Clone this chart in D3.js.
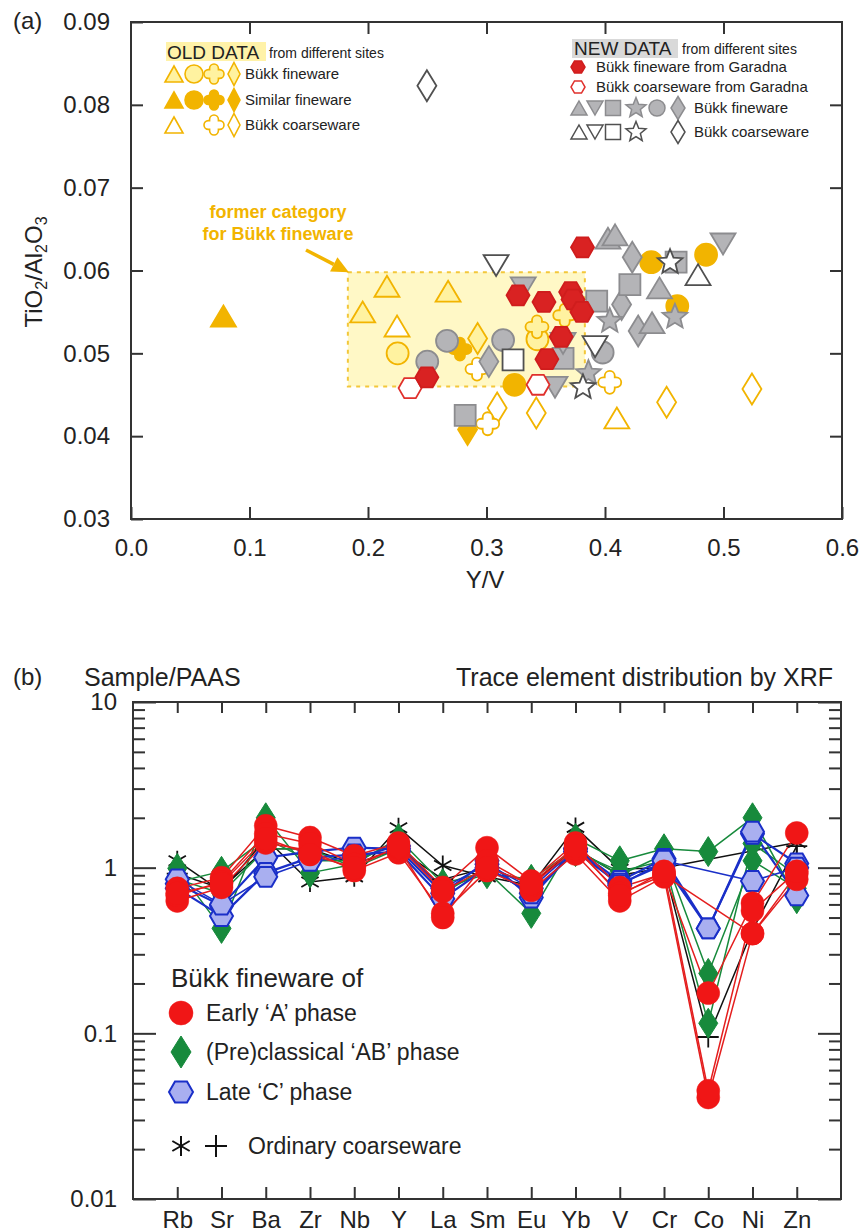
<!DOCTYPE html>
<html><head><meta charset="utf-8">
<script src="https://cdn.jsdelivr.net/npm/d3@7"></script>
<style>
body{margin:0;background:#fff}
svg text{font-family:"Liberation Sans",Arial,Helvetica,sans-serif;fill:#222}
</style>
</head><body>
<svg id="chart" width="861" height="1232"></svg>
<script>
// ================= Panel (a) data : [Y/V, TiO2/Al2O3] =================
const xTicksA = [0, 0.1, 0.2, 0.3, 0.4, 0.5, 0.6];
const yTicksA = [0.03, 0.04, 0.05, 0.06, 0.07, 0.08, 0.09];
const formerCategory = [[0.183, 0.046], [0.383, 0.0598]];

// OLD DATA
const oldFineTri = [[0.1955,0.0550],[0.2160,0.0581],[0.2676,0.0575]];
const oldFineCircle = [[0.2250,0.0500],[0.3430,0.0517]];
const oldFineCross = [[0.3426,0.0532],[0.3660,0.0546]];
const oldFineDiamond = [[0.2925,0.0518]];
const simTri = [[0.078,0.0545]];
const simCircle = [[0.3236,0.0462],[0.4390,0.0610],[0.4853,0.0619],[0.4610,0.0557]];
const simCross = [[0.2776,0.0505]];
const simDiamond = [[0.2840,0.0408]];
const oldCoarseTri = [[0.2245,0.0533],[0.4100,0.0422]];
const oldCoarseCross = [[0.2920,0.0481],[0.3010,0.0415],[0.4040,0.0465]];
const oldCoarseDiamond = [[0.3090,0.0434],[0.3420,0.0428],[0.4520,0.0441],[0.5240,0.0457]];
// NEW DATA
const garadnaFine = [[0.3266,0.0570],[0.3485,0.0562],[0.3710,0.0574],[0.3730,0.0565],[0.3805,0.0550],[0.3630,0.0520],[0.3510,0.0493],[0.2497,0.0471],[0.3810,0.0628]];
const garadnaCoarse = [[0.2355,0.0458],[0.3435,0.0462]];
const newFineTriUp = [[0.4025,0.0639],[0.4085,0.0643],[0.4460,0.0579],[0.4397,0.0537]];
const newFineTriDown = [[0.4996,0.0632],[0.3578,0.0459],[0.3310,0.0579],[0.3646,0.0512]];
const newFineSquare = [[0.2820,0.0425],[0.4210,0.0583],[0.3930,0.0563],[0.4600,0.0610],[0.3646,0.0494]];
const newFineStar = [[0.4040,0.0539],[0.4590,0.0544],[0.3860,0.0476]];
const newFineCircle = [[0.2667,0.0515],[0.2500,0.0490],[0.3140,0.0516],[0.3980,0.0501]];
const newFineDiamond = [[0.3020,0.0490],[0.4230,0.0616],[0.4140,0.0559],[0.4280,0.0527]];
const newCoarseTriUp = [[0.4785,0.0595]];
const newCoarseTriDown = [[0.3081,0.0606],[0.3916,0.0508]];
const newCoarseSquare = [[0.3224,0.0492]];
const newCoarseStar = [[0.4549,0.0610],[0.3814,0.0459]];
const newCoarseDiamond = [[0.2497,0.0823]];

// ================= Panel (b) data : Sample/PAAS =================
const elements = ["Rb","Sr","Ba","Zr","Nb","Y","La","Sm","Eu","Yb","V","Cr","Co","Ni","Zn"];
const yMajorB = [0.01, 0.1, 1, 10];
const earlyA1 = [0.75,0.87,1.79,1.52,1.18,1.41,0.76,1.32,0.83,1.41,0.76,0.92,0.175,0.61,1.62];
const earlyA2 = [0.63,0.76,1.41,1.27,0.96,1.23,0.53,0.96,0.73,1.21,0.63,0.88,0.041,0.40,0.92];
const earlyA3 = [0.68,0.82,1.60,1.40,1.05,1.32,0.50,1.10,0.78,1.30,0.70,0.90,null,0.40,0.85];
const earlyA4 = [0.70,0.80,1.50,1.20,1.00,1.35,0.72,1.00,0.80,1.35,0.68,0.95,0.045,0.55,0.95];
const abPhase1 = [0.99,0.43,2.00,0.93,1.05,1.50,0.80,0.95,0.53,1.50,1.10,1.30,1.25,2.00,0.65];
const abPhase2 = [0.82,0.95,1.50,1.10,1.10,1.40,0.75,0.92,0.85,1.30,0.90,1.20,0.23,1.10,0.75];
const abPhase3 = [0.85,0.70,1.30,1.30,1.00,1.30,0.70,1.00,0.70,1.25,0.95,1.10,0.115,1.40,0.90];
const lateC1 = [0.80,0.59,1.15,1.25,1.32,1.30,0.70,1.10,0.66,1.30,0.83,1.13,0.43,1.60,1.06];
const lateC2 = [0.75,0.51,0.93,1.15,1.20,1.25,0.65,1.00,0.70,1.25,0.80,1.05,0.43,1.65,0.68];
const lateC3 = [0.85,0.60,0.88,1.10,1.15,1.35,0.75,1.05,0.75,1.30,0.78,1.10,null,0.83,1.00];
const coarseStar = [1.10,0.72,1.50,0.82,0.88,1.74,1.03,0.88,0.78,1.75,0.98,1.00,null,null,1.42];
const coarsePlus = [0.92,0.75,1.30,1.30,1.05,1.30,0.85,1.00,0.80,1.30,0.90,1.00,0.095,0.42,1.35];

// ================= styles =================
const GOLD="#f2b400", LIGHTY="#fff2a0", GRAYF="#b4b4b7", GRAYS="#8c8c8f", DARKS="#505050",
      REDF="#d92222", REDS="#cf1d1d";
const BRED="#f01616", BGREEN="#178a3c", BBLUE="#1a2fc8", BHEXF="#a9aff0";

// ================= shape paths =================
const f = v => (+v).toFixed(2);
const shapes = {
  triUp:(w,h)=>`M0,${f(-h/2)}L${f(w/2)},${f(h/2)}L${f(-w/2)},${f(h/2)}Z`,
  triDown:(w,h)=>`M0,${f(h/2)}L${f(w/2)},${f(-h/2)}L${f(-w/2)},${f(-h/2)}Z`,
  square:(s)=>`M${f(-s/2)},${f(-s/2)}h${f(s)}v${f(s)}h${f(-s)}Z`,
  circle:(r)=>`M${f(r)},0A${f(r)},${f(r)} 0 1 1 ${f(-r)},0A${f(r)},${f(r)} 0 1 1 ${f(r)},0Z`,
  diamond:(w,h)=>`M0,${f(-h/2)}L${f(w/2)},0L0,${f(h/2)}L${f(-w/2)},0Z`,
  hex:(r)=>{const p=[];for(let i=0;i<6;i++){const a=Math.PI/3*i;p.push(f(r*Math.cos(a))+","+f(r*Math.sin(a)));}return "M"+p.join("L")+"Z";},
  star:(ro,ri)=>{const p=[];for(let i=0;i<10;i++){const r=i%2?ri:ro;const a=-Math.PI/2+i*Math.PI/5;p.push(f(r*Math.cos(a))+","+f(r*Math.sin(a)));}return "M"+p.join("L")+"Z";},
  cross:(R,a)=>{const b=R-a;return `M${f(-a)},${f(-a)}L${f(-a)},${f(-b)}A${f(a)},${f(a)} 0 0 1 ${f(a)},${f(-b)}L${f(a)},${f(-a)}L${f(b)},${f(-a)}A${f(a)},${f(a)} 0 0 1 ${f(b)},${f(a)}L${f(a)},${f(a)}L${f(a)},${f(b)}A${f(a)},${f(a)} 0 0 1 ${f(-a)},${f(b)}L${f(-a)},${f(a)}L${f(-b)},${f(a)}A${f(a)},${f(a)} 0 0 1 ${f(-b)},${f(-a)}Z`;},
  asterisk:(r)=>{let s="";for(let i=0;i<3;i++){const a=Math.PI/2+i*Math.PI/3;s+=`M${f(r*Math.cos(a))},${f(r*Math.sin(a))}L${f(-r*Math.cos(a))},${f(-r*Math.sin(a))}`;}return s;},
  plus:(r)=>`M${f(-r)},0L${f(r)},0M0,${f(-r)}L0,${f(r)}`
};
// plot-size shape makers (panel a)
const A = {
  triUp:()=>shapes.triUp(25,21), triDown:()=>shapes.triDown(25,21), square:()=>shapes.square(21),
  circle:()=>shapes.circle(11), diamond:()=>shapes.diamond(19,31), cross:()=>shapes.cross(11.5,5),
  star:()=>shapes.star(13,5.8), hex:()=>shapes.hex(11.5)
};

const svg = d3.select("#chart");

// ================= PANEL (a) =================
const xA = d3.scaleLinear().domain([0,0.6]).range([131,842]);
const yA = d3.scaleLinear().domain([0.03,0.09]).range([519,22]);
const gA = svg.append("g");

// former category box
gA.append("rect")
  .attr("x", xA(formerCategory[0][0])).attr("y", yA(formerCategory[1][1]))
  .attr("width", xA(formerCategory[1][0]) - xA(formerCategory[0][0]))
  .attr("height", yA(formerCategory[0][1]) - yA(formerCategory[1][1]))
  .attr("fill", "#fff8c6").attr("stroke", "#f3c73a").attr("stroke-width", 2)
  .attr("stroke-dasharray", "4,5");

const groupsA = [
  {data:oldCoarseDiamond, shape:"diamond", fill:"#fff", stroke:GOLD},
  {data:oldCoarseCross, shape:"cross", fill:"#fff", stroke:GOLD},
  {data:oldCoarseTri, shape:"triUp", fill:"#fff", stroke:GOLD},
  {data:simDiamond, shape:"diamond", fill:GOLD, stroke:GOLD},
  {data:simCross, shape:"cross", fill:GOLD, stroke:GOLD},
  {data:simTri, shape:"triUp", fill:GOLD, stroke:GOLD},
  {data:simCircle, shape:"circle", fill:GOLD, stroke:GOLD},
  {data:oldFineTri, shape:"triUp", fill:LIGHTY, stroke:GOLD},
  {data:oldFineCircle, shape:"circle", fill:LIGHTY, stroke:GOLD},
  {data:oldFineCross, shape:"cross", fill:LIGHTY, stroke:GOLD},
  {data:oldFineDiamond, shape:"diamond", fill:LIGHTY, stroke:GOLD},
  {data:newFineCircle, shape:"circle", fill:GRAYF, stroke:GRAYS},
  {data:newFineDiamond, shape:"diamond", fill:GRAYF, stroke:GRAYS},
  {data:newFineSquare, shape:"square", fill:GRAYF, stroke:GRAYS},
  {data:newFineTriUp, shape:"triUp", fill:GRAYF, stroke:GRAYS},
  {data:newFineTriDown, shape:"triDown", fill:GRAYF, stroke:GRAYS},
  {data:newFineStar, shape:"star", fill:GRAYF, stroke:GRAYS},
  {data:newCoarseSquare, shape:"square", fill:"#fff", stroke:DARKS},
  {data:newCoarseTriUp, shape:"triUp", fill:"#fff", stroke:DARKS},
  {data:newCoarseTriDown, shape:"triDown", fill:"#fff", stroke:DARKS},
  {data:newCoarseStar, shape:"star", fill:"#fff", stroke:DARKS},
  {data:newCoarseDiamond, shape:"diamond", fill:"#fff", stroke:DARKS},
  {data:garadnaCoarse, shape:"hex", fill:"#fff", stroke:"#e0302c"},
  {data:garadnaFine, shape:"hex", fill:REDF, stroke:REDS}
];
groupsA.forEach(g => {
  gA.append("g").selectAll("path").data(g.data).join("path")
    .attr("d", A[g.shape]())
    .attr("transform", d => `translate(${xA(d[0])},${yA(d[1])})`)
    .attr("fill", g.fill).attr("stroke", g.stroke).attr("stroke-width", 1.8)
    .attr("stroke-linejoin", "miter");
});

// annotation
const ann = gA.append("g");
ann.append("text").attr("x", 278).attr("y", 212).attr("dy","0.35em").attr("text-anchor","middle")
  .style("fill", GOLD).style("font-weight","bold").style("font-size","18px").text("former category");
ann.append("text").attr("x", 278).attr("y", 234).attr("dy","0.35em").attr("text-anchor","middle")
  .style("fill", GOLD).style("font-weight","bold").style("font-size","18px").text("for Bükk fineware");
{
  const tx = xA(formerCategory[0][0]) + 1, ty = yA(formerCategory[1][1]);
  const sx = 306, sy = 250;
  const ang = Math.atan2(ty - sy, tx - sx);
  const L = 17, Wd = 8;
  const bx = tx - L*Math.cos(ang), by = ty - L*Math.sin(ang);
  ann.append("line").attr("x1",sx).attr("y1",sy).attr("x2",bx).attr("y2",by)
    .attr("stroke",GOLD).attr("stroke-width",3.5);
  ann.append("path").attr("d",`M${tx},${ty}L${bx + Wd*Math.sin(ang)},${by - Wd*Math.cos(ang)}L${bx - Wd*Math.sin(ang)},${by + Wd*Math.cos(ang)}Z`)
    .attr("fill",GOLD);
}

// axes panel a
function styleAxis(sel, fs){
  sel.select(".domain").remove();
  sel.selectAll(".tick line").attr("stroke","#333").attr("stroke-width",2);
  sel.selectAll(".tick text").style("font-size", fs+"px").style("fill","#222")
     .style("font-family",'"Liberation Sans",Arial,sans-serif');
}
gA.append("g").attr("transform","translate(0,519)")
  .call(d3.axisBottom(xA).tickValues(xTicksA).tickSizeInner(-12).tickSizeOuter(0).tickPadding(20).tickFormat(d3.format(".1f")))
  .call(s=>styleAxis(s,24));
gA.append("g").attr("transform","translate(0,22)")
  .call(d3.axisTop(xA).tickValues(xTicksA.slice(1,-1)).tickSizeInner(-12).tickSizeOuter(0).tickFormat(()=>""))
  .call(s=>styleAxis(s,24));
gA.append("g").attr("transform","translate(131,0)")
  .call(d3.axisLeft(yA).tickValues(yTicksA).tickSizeInner(-12).tickSizeOuter(0).tickPadding(21).tickFormat(d3.format(".2f")))
  .call(s=>styleAxis(s,24));
gA.append("g").attr("transform","translate(842,0)")
  .call(d3.axisRight(yA).tickValues(yTicksA.slice(1,-1)).tickSizeInner(-12).tickSizeOuter(0).tickFormat(()=>""))
  .call(s=>styleAxis(s,24));
gA.append("rect").attr("x",131).attr("y",22).attr("width",711).attr("height",497)
  .attr("fill","none").attr("stroke","#333").attr("stroke-width",2);

// labels panel a
svg.append("text").attr("x",13).attr("y",21).attr("dy","0.35em").style("font-size","24px").text("(a)");
svg.append("text").attr("x",485).attr("y",580).attr("dy","0.35em").attr("text-anchor","middle").style("font-size","24px").text("Y/V");
{
  const t = svg.append("text").attr("transform","translate(34,272) rotate(-90)").attr("text-anchor","middle")
    .attr("dy","0.35em").style("font-size","24px");
  t.append("tspan").text("TiO");
  t.append("tspan").attr("dy",5).style("font-size","16px").text("2");
  t.append("tspan").attr("dy",-5).text("/Al");
  t.append("tspan").attr("dy",5).style("font-size","16px").text("2");
  t.append("tspan").attr("dy",-5).text("O");
  t.append("tspan").attr("dy",5).style("font-size","16px").text("3");
}

// legends panel a
{
  const lg = svg.append("g");
  // OLD DATA
  lg.append("rect").attr("x",166).attr("y",42).attr("width",100).attr("height",19).attr("fill","#fff2a8");
  lg.append("text").attr("x",167).attr("y",52).attr("dy","0.35em").style("font-size","19px").text("OLD DATA");
  lg.append("text").attr("x",269).attr("y",53).attr("dy","0.35em").style("font-size","14px").text("from different sites");
  const oldRows = [
    {y:74, label:"Bükk fineware", items:[["triUp",174,LIGHTY],["circle",194,LIGHTY],["cross",214,LIGHTY],["diamond",234,LIGHTY]]},
    {y:100, label:"Similar fineware", items:[["triUp",174,GOLD],["circle",194,GOLD],["cross",214,GOLD],["diamond",234,GOLD]]},
    {y:125, label:"Bükk coarseware", items:[["triUp",174,"#fff"],["cross",214,"#fff"],["diamond",234,"#fff"]]}
  ];
  const oldSym = {triUp:()=>shapes.triUp(18,16), circle:()=>shapes.circle(9), cross:()=>shapes.cross(10,4.4), diamond:()=>shapes.diamond(12,23)};
  oldRows.forEach(r=>{
    r.items.forEach(it=>{
      lg.append("path").attr("d",oldSym[it[0]]()).attr("transform",`translate(${it[1]},${r.y})`)
        .attr("fill",it[2]).attr("stroke",GOLD).attr("stroke-width",1.6);
    });
    lg.append("text").attr("x",245).attr("y",r.y).attr("dy","0.35em").style("font-size","15px").text(r.label);
  });
  // NEW DATA
  lg.append("rect").attr("x",572).attr("y",39).attr("width",106).attr("height",19).attr("fill","#d9d9d9");
  lg.append("text").attr("x",574).attr("y",48).attr("dy","0.35em").style("font-size","19px").text("NEW DATA");
  lg.append("text").attr("x",682).attr("y",49).attr("dy","0.35em").style("font-size","14px").text("from different sites");
  lg.append("path").attr("d",shapes.hex(7)).attr("transform","translate(578,67)").attr("fill",REDF).attr("stroke",REDS).attr("stroke-width",1.5);
  lg.append("text").attr("x",596).attr("y",67).attr("dy","0.35em").style("font-size","15px").text("Bükk fineware from Garadna");
  lg.append("path").attr("d",shapes.hex(7)).attr("transform","translate(578,87)").attr("fill","#fff").attr("stroke","#e0302c").attr("stroke-width",1.5);
  lg.append("text").attr("x",596).attr("y",87).attr("dy","0.35em").style("font-size","15px").text("Bükk coarseware from Garadna");
  const newSym = {triUp:()=>shapes.triUp(16,14), triDown:()=>shapes.triDown(16,14), square:()=>shapes.square(15),
    star:()=>shapes.star(10.5,4.6), circle:()=>shapes.circle(8), diamond:()=>shapes.diamond(14,23)};
  const newRows = [
    {y:108, label:"Bükk fineware", fill:GRAYF, stroke:GRAYS, items:[["triUp",579],["triDown",595],["square",613],["star",636],["circle",657],["diamond",678]]},
    {y:132, label:"Bükk coarseware", fill:"#fff", stroke:DARKS, items:[["triUp",579],["triDown",595],["square",613],["star",636],["diamond",678]]}
  ];
  newRows.forEach(r=>{
    r.items.forEach(it=>{
      lg.append("path").attr("d",newSym[it[0]]()).attr("transform",`translate(${it[1]},${r.y})`)
        .attr("fill",r.fill).attr("stroke",r.stroke).attr("stroke-width",1.5);
    });
    lg.append("text").attr("x",694).attr("y",r.y).attr("dy","0.35em").style("font-size","15px").text(r.label);
  });
}

// ================= PANEL (b) =================
const xB = d3.scalePoint().domain(elements).range([133,841]).padding(1);
const yB = d3.scaleLog().domain([0.01,10]).range([1199,702]);
const gB = svg.append("g");

const seriesB = [
  {vals:coarseStar, color:"#111", marker:"asterisk", lw:1.5},
  {vals:coarsePlus, color:"#111", marker:"plus", lw:1.5},
  {vals:abPhase1, color:BGREEN, marker:"diamond", lw:1.5},
  {vals:abPhase2, color:BGREEN, marker:"diamond", lw:1.5},
  {vals:abPhase3, color:BGREEN, marker:"diamond", lw:1.5},
  {vals:lateC1, color:BBLUE, marker:"hex", lw:2.2},
  {vals:lateC2, color:BBLUE, marker:"hex", lw:2.2},
  {vals:lateC3, color:BBLUE, marker:"hex", lw:1.6},
  {vals:earlyA1, color:"#e41e1e", marker:"circle", lw:1.5},
  {vals:earlyA2, color:"#e41e1e", marker:"circle", lw:1.5},
  {vals:earlyA3, color:"#e41e1e", marker:"circle", lw:1.5},
  {vals:earlyA4, color:"#e41e1e", marker:"circle", lw:1.5}
];
const markB = {
  asterisk:{d:()=>shapes.asterisk(10), fill:"none", stroke:"#111", sw:1.8},
  plus:{d:()=>shapes.plus(10.5), fill:"none", stroke:"#111", sw:1.8},
  diamond:{d:()=>shapes.diamond(19,30), fill:BGREEN, stroke:BGREEN, sw:1},
  hex:{d:()=>shapes.hex(11.5), fill:BHEXF, stroke:BBLUE, sw:2},
  circle:{d:()=>shapes.circle(11.5), fill:BRED, stroke:BRED, sw:0.5}
};
const lineB = d3.line().x(d=>xB(d[0])).y(d=>yB(d[1]));
const ptsOf = s => elements.map((e,i)=>[e,s.vals[i]]).filter(d=>d[1]!=null);
seriesB.forEach(s=>{
  gB.append("path").datum(ptsOf(s)).attr("d",lineB).attr("fill","none")
    .attr("stroke",s.color).attr("stroke-width",s.lw).attr("stroke-linejoin","round");
});
seriesB.forEach(s=>{
  const m = markB[s.marker];
  gB.append("g").selectAll("path").data(ptsOf(s)).join("path")
    .attr("d",m.d()).attr("transform",d=>`translate(${xB(d[0])},${yB(d[1])})`)
    .attr("fill",m.fill).attr("stroke",m.stroke).attr("stroke-width",m.sw);
});

// axes panel b
const yMinorB = yB.ticks().filter(v => !yMajorB.some(m => Math.abs(m - v) < 1e-9));
gB.append("g").attr("transform","translate(0,1199)")
  .call(d3.axisBottom(xB).tickSizeInner(-12).tickSizeOuter(0).tickPadding(12))
  .call(s=>styleAxis(s,24));
gB.append("g").attr("transform","translate(0,702)")
  .call(d3.axisTop(xB).tickSizeInner(-11).tickSizeOuter(0).tickFormat(()=>""))
  .call(s=>styleAxis(s,24));
gB.append("g").attr("transform","translate(133,0)")
  .call(d3.axisLeft(yB).tickValues(yMajorB).tickSizeInner(-23).tickSizeOuter(0).tickPadding(16).tickFormat(d=>String(d)))
  .call(s=>styleAxis(s,24));
gB.append("g").attr("transform","translate(133,0)")
  .call(d3.axisLeft(yB).tickValues(yMinorB).tickSizeInner(-12).tickSizeOuter(0).tickFormat(()=>""))
  .call(s=>styleAxis(s,24));
gB.append("g").attr("transform","translate(841,0)")
  .call(d3.axisRight(yB).tickValues(yMajorB).tickSizeInner(-23).tickSizeOuter(0).tickFormat(()=>""))
  .call(s=>styleAxis(s,24));
gB.append("g").attr("transform","translate(841,0)")
  .call(d3.axisRight(yB).tickValues(yMinorB).tickSizeInner(-12).tickSizeOuter(0).tickFormat(()=>""))
  .call(s=>styleAxis(s,24));
gB.append("rect").attr("x",133).attr("y",702).attr("width",708).attr("height",497)
  .attr("fill","none").attr("stroke","#333").attr("stroke-width",2);

// titles panel b
svg.append("text").attr("x",13).attr("y",677).attr("dy","0.35em").style("font-size","24px").text("(b)");
svg.append("text").attr("x",84).attr("y",677).attr("dy","0.35em").style("font-size","25px").text("Sample/PAAS");
svg.append("text").attr("x",833).attr("y",677).attr("dy","0.35em").attr("text-anchor","end").style("font-size","25px").text("Trace element distribution by XRF");

// legend panel b
{
  const lb = svg.append("g");
  lb.append("text").attr("x",171).attr("y",978).attr("dy","0.35em").style("font-size","26px").text("Bükk fineware of");
  const rows = [
    {y:1013, m:"circle", label:"Early ‘A’ phase"},
    {y:1052, m:"diamond", label:"(Pre)classical ‘AB’ phase"},
    {y:1092, m:"hex", label:"Late ‘C’ phase"}
  ];
  const legSym = {circle:()=>shapes.circle(12), diamond:()=>shapes.diamond(20,32), hex:()=>shapes.hex(12)};
  rows.forEach(r=>{
    const m = markB[r.m];
    lb.append("path").attr("d",legSym[r.m]()).attr("transform",`translate(181,${r.y})`)
      .attr("fill",m.fill).attr("stroke",m.stroke).attr("stroke-width",m.sw);
    lb.append("text").attr("x",206).attr("y",r.y).attr("dy","0.35em").style("font-size","23px").text(r.label);
  });
  lb.append("path").attr("d",shapes.asterisk(10)).attr("transform","translate(181,1146)").attr("stroke","#111").attr("stroke-width",2).attr("fill","none");
  lb.append("path").attr("d",shapes.plus(11)).attr("transform","translate(216,1146)").attr("stroke","#111").attr("stroke-width",2).attr("fill","none");
  lb.append("text").attr("x",248).attr("y",1146).attr("dy","0.35em").style("font-size","23px").text("Ordinary coarseware");
}
</script>
</body></html>
